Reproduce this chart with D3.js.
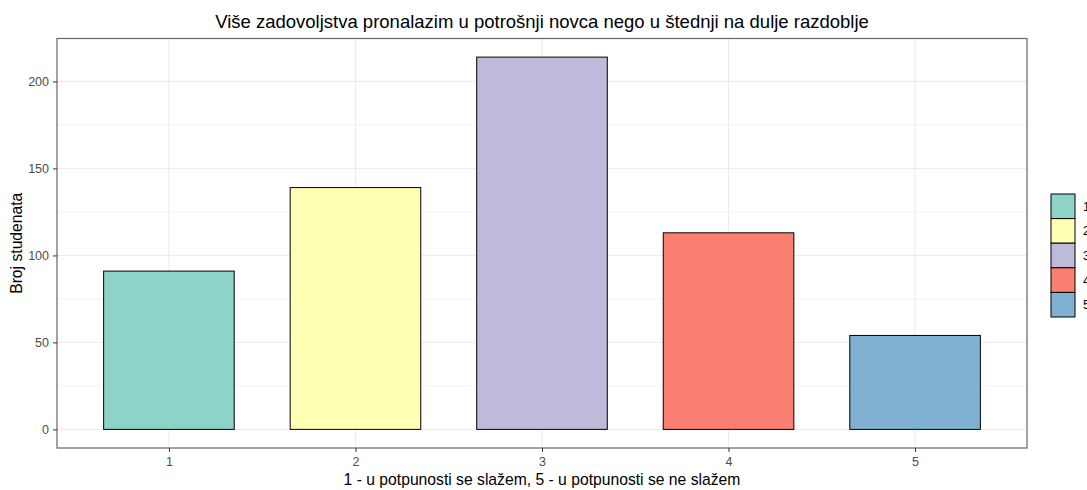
<!DOCTYPE html>
<html>
<head>
<meta charset="utf-8">
<script src="https://cdn.jsdelivr.net/npm/d3@7"></script>
<style>
  body { margin: 0; background: #fff; }
  text { font-family: "Liberation Sans", Arial, sans-serif; }
</style>
</head>
<body>
<div id="container"></div>
<script>
// data
var categories = ["1", "2", "3", "4", "5"];
var counts = [91, 139, 214, 113, 54];
var colors = ["#8DD3C7", "#FFFFB3", "#BEBADA", "#FB8072", "#80B1D3"];
var yTicks = [0, 50, 100, 150, 200];
var yMinor = [25, 75, 125, 175];

var W = 1087, H = 490;
var margin = { top: 38.5, right: 60, bottom: 42, left: 57 };
var width = W - margin.left - margin.right,
    height = H - margin.top - margin.bottom;

var svg = d3.select("#container").append("svg")
    .attr("width", W)
    .attr("height", H);

var g = svg.append("g")
    .attr("transform", "translate(" + margin.left + "," + margin.top + ")");

// scales (ggplot-like expansion)
var yMax = d3.max(counts);
var y = d3.scaleLinear()
    .domain([-0.05 * yMax, yMax * 1.05])
    .range([height, 0]);

var x = d3.scaleLinear()
    .domain([0.4, categories.length + 0.6])
    .range([0, width]);
var barW = (x(2) - x(1)) * 0.7;

// grid
g.selectAll(".minor").data(yMinor).enter().append("line")
    .attr("x1", 0).attr("x2", width)
    .attr("y1", function(d) { return y(d); })
    .attr("y2", function(d) { return y(d); })
    .style("stroke", "#F3F3F3").style("stroke-width", 1);

g.selectAll(".major").data(yTicks).enter().append("line")
    .attr("x1", 0).attr("x2", width)
    .attr("y1", function(d) { return y(d); })
    .attr("y2", function(d) { return y(d); })
    .style("stroke", "#EBEBEB").style("stroke-width", 1);

g.selectAll(".vgrid").data(categories).enter().append("line")
    .attr("y1", 0).attr("y2", height)
    .attr("x1", function(d, i) { return x(i + 1); })
    .attr("x2", function(d, i) { return x(i + 1); })
    .style("stroke", "#EBEBEB").style("stroke-width", 1);

// bars
g.selectAll(".bar").data(counts).enter().append("rect")
    .attr("x", function(d, i) { return x(i + 1) - barW / 2; })
    .attr("width", barW)
    .attr("y", function(d) { return y(d); })
    .attr("height", function(d) { return y(0) - y(d); })
    .style("fill", function(d, i) { return colors[i]; })
    .style("stroke", "#000")
    .style("stroke-width", 1);

// panel border
g.append("rect")
    .attr("width", width).attr("height", height)
    .style("fill", "none").style("stroke", "#666").style("stroke-width", 1.2);

// axes
var xAxis = g.append("g")
    .attr("transform", "translate(0," + height + ")")
    .call(d3.axisBottom(x).tickValues([1, 2, 3, 4, 5])
        .tickFormat(function(d) { return categories[d - 1]; })
        .tickSize(4).tickPadding(5));
var yAxis = g.append("g")
    .call(d3.axisLeft(y).tickValues(yTicks).tickSize(4).tickPadding(4));

[xAxis, yAxis].forEach(function(a) {
    a.select(".domain").remove();
    a.selectAll("line").style("stroke", "#333");
    a.selectAll("text").style("fill", "#4D4D4D").style("font-size", "12.5px");
});

// titles
svg.append("text")
    .attr("x", margin.left + width / 2).attr("y", 28)
    .attr("text-anchor", "middle")
    .style("font-size", "18.5px").style("fill", "#000")
    .text("Više zadovoljstva pronalazim u potrošnji novca nego u štednji na dulje razdoblje");

svg.append("text")
    .attr("x", margin.left + width / 2).attr("y", 485)
    .attr("text-anchor", "middle")
    .style("font-size", "15.7px").style("fill", "#000")
    .text("1 - u potpunosti se slažem, 5 - u potpunosti se ne slažem");

svg.append("text")
    .attr("transform", "translate(22," + (margin.top + height / 2) + ") rotate(-90)")
    .attr("text-anchor", "middle")
    .style("font-size", "15.7px").style("fill", "#000")
    .text("Broj studenata");

// legend
var keyH = 24.6;
var legend = svg.append("g").attr("transform", "translate(1051,194)");
var items = legend.selectAll(".key").data(categories).enter().append("g")
    .attr("transform", function(d, i) { return "translate(0," + (i * keyH) + ")"; });
items.append("rect")
    .attr("width", 24).attr("height", keyH)
    .style("fill", function(d, i) { return colors[i]; })
    .style("stroke", "#000").style("stroke-width", 1);
items.append("text")
    .attr("x", 32).attr("y", keyH / 2 + 4.5)
    .style("font-size", "12.5px").style("fill", "#000")
    .text(function(d) { return d; });
</script>
</body>
</html>
